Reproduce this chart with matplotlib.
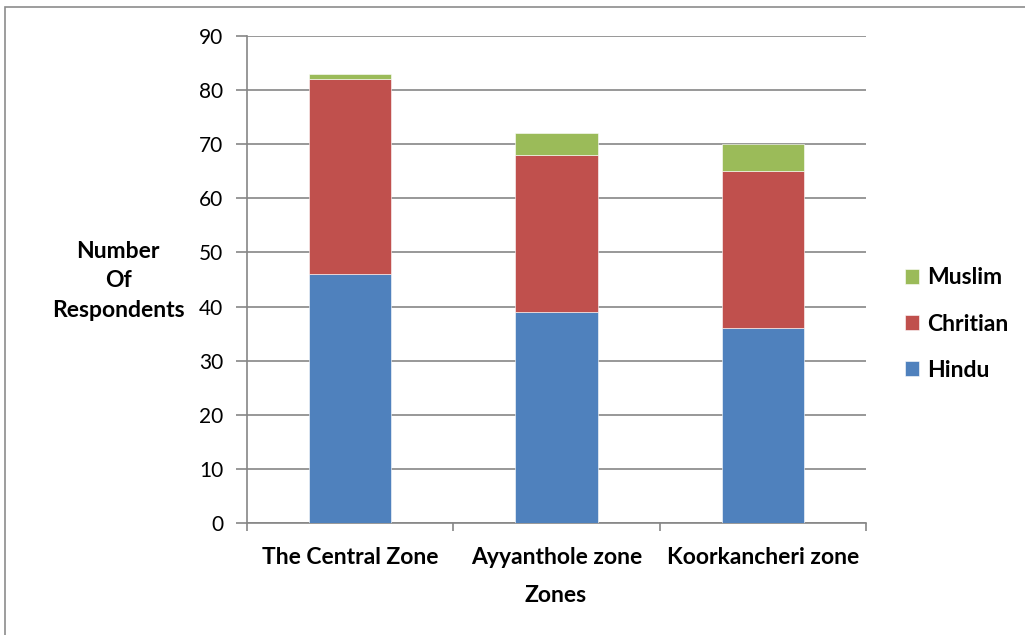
import matplotlib
matplotlib.use("Agg")
import matplotlib.pyplot as plt
from matplotlib.patches import Rectangle
import numpy as np

zones = ["The Central Zone", "Ayyanthole zone", "Koorkancheri zone"]
hindu = [46, 39, 36]
christian = [36, 29, 29]
muslim = [1, 4, 5]
series_names = ["Hindu", "Chritian", "Muslim"]
colors = ["#4F81BD", "#C0504D", "#9BBB59"]
y_ticks = [0, 10, 20, 30, 40, 50, 60, 70, 80, 90]

plt.rcParams["font.family"] = ["Lato", "DejaVu Sans"]
LABEL_SIZE = 16.5

fig = plt.figure(figsize=(10.25, 6.35), dpi=100)
fig.patches.append(Rectangle((5 / 1025, -0.1), 1.2, (635 - 7) / 635 + 0.1,
                             transform=fig.transFigure, fill=False,
                             edgecolor="#8c8c8c", linewidth=1.2))

ax = fig.add_axes([247 / 1025, 1 - 523 / 635, (866 - 247) / 1025, (523 - 36) / 635])

x = np.arange(len(zones))
bottom = np.zeros(len(zones))
bars = []
for vals, name, col in zip([hindu, christian, muslim], series_names, colors):
    b = ax.bar(x, vals, width=0.4, bottom=bottom, color=col, label=name,
               edgecolor="white", linewidth=0.4, zorder=3)
    bars.append(b)
    bottom += np.array(vals)

ax.set_xlim(-0.5, len(zones) - 0.5)
ax.set_ylim(0, 90)
ax.set_yticks(y_ticks)
ax.tick_params(axis="y", labelsize=15, length=8, color="#868686", width=1.2, pad=9)
ax.yaxis.grid(True, color="#868686", linewidth=1.2, zorder=0)
ax.set_axisbelow(True)

ax.set_xticks(x)
ax.set_xticklabels(zones, fontsize=LABEL_SIZE, fontweight="bold")
ax.tick_params(axis="x", length=0, pad=17)
ax.set_xticks(np.arange(-0.5, len(zones)), minor=True)
ax.tick_params(axis="x", which="minor", length=6, color="#868686", width=1.2)

for s in ["top", "right"]:
    ax.spines[s].set_visible(False)
for s in ["left", "bottom"]:
    ax.spines[s].set_color("#868686")
    ax.spines[s].set_linewidth(1.2)

fig.text(118 / 1025, 1 - 281 / 635, "Number\nOf\nRespondents", ha="center",
         va="center", fontsize=LABEL_SIZE, fontweight="bold", linespacing=1.5)
fig.text(556 / 1025, 1 - 596 / 635, "Zones", ha="center", va="center",
         fontsize=LABEL_SIZE, fontweight="bold")

leg = fig.legend(handles=bars[::-1], labels=series_names[::-1],
                 loc="center left", bbox_to_anchor=(905 / 1025, 1 - 324 / 635),
                 frameon=False, borderpad=0, borderaxespad=0,
                 handlelength=0.62, handleheight=0.62,
                 handletextpad=0.35, labelspacing=1.1,
                 prop={"size": LABEL_SIZE, "weight": "bold"})

fig.savefig("out.png", dpi=100)
